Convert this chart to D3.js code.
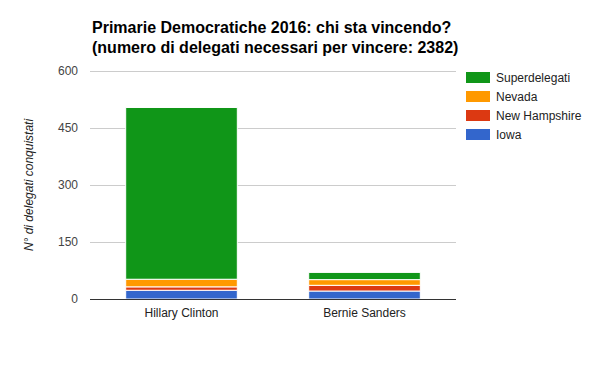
<!DOCTYPE html>
<html>
<head>
<meta charset="utf-8">
<script src="https://cdn.jsdelivr.net/npm/d3@7"></script>
<style>
  body { margin: 0; background: #fff; }
  text { font-family: "Liberation Sans", Arial, sans-serif; }
</style>
</head>
<body>
<script>
// candidates and delegates won per contest (stacked bottom to top)
const candidates = ['Hillary Clinton', 'Bernie Sanders'];
const series = ['Iowa', 'New Hampshire', 'Nevada', 'Superdelegati'];
const iowa = [23, 21];
const newHampshire = [9, 15];
const nevada = [20, 15];
const superdelegati = [452, 19];
const yTicks = [0, 150, 300, 450, 600];
const colors = ['#3366cc', '#dc3912', '#ff9900', '#109618'];

const svgWidth = 600;
const svgHeight = 371;
const margin = {left: 90, right: 144, top: 71, bottom: 72};

const svg = d3.select('body')
.append('svg')
.attr('width', svgWidth)
.attr('height', svgHeight)

const rows = candidates.map((c, i) => ({
    name: c,
    'Iowa': iowa[i],
    'New Hampshire': newHampshire[i],
    'Nevada': nevada[i],
    'Superdelegati': superdelegati[i]
}));
const stacked = d3.stack().keys(series)(rows);

const x = d3.scaleBand()
.domain(candidates)
.range([margin.left, svgWidth - margin.right])
.paddingInner(0.39)
.paddingOuter(0.195)

const y = d3.scaleLinear()
.domain([0, 600])
.range([svgHeight - margin.bottom, margin.top])

const color = d3.scaleOrdinal().domain(series).range(colors);

// gridlines
svg.append('g')
.selectAll('line')
.data(yTicks.filter((t) => t > 0))
.join('line')
.attr('x1', margin.left)
.attr('x2', svgWidth - margin.right)
.attr('y1', (d) => Math.round(y(d)) + 0.5)
.attr('y2', (d) => Math.round(y(d)) + 0.5)
.attr('stroke', '#cccccc')

// y tick labels
svg.append('g')
.selectAll('text')
.data(yTicks)
.join('text')
.attr('x', margin.left - 12)
.attr('y', (d) => y(d) + 4)
.attr('text-anchor', 'end')
.attr('font-size', 12)
.attr('fill', '#444')
.text((d) => d)

// stacked bars
svg.append('g')
.selectAll('g')
.data(stacked)
.join('g')
.attr('fill', (d) => color(d.key))
.selectAll('rect')
.data((d) => d)
.join('rect')
.attr('x', (d) => x(d.data.name))
.attr('width', x.bandwidth())
.attr('y', (d) => y(d[1]))
.attr('height', (d) => y(d[0]) - y(d[1]))
.attr('stroke', '#fff')
.attr('stroke-width', 1)

// baseline
svg.append('line')
.attr('x1', margin.left)
.attr('x2', svgWidth - margin.right)
.attr('y1', y(0) + 0.5)
.attr('y2', y(0) + 0.5)
.attr('stroke', '#333')

// x labels
svg.append('g')
.selectAll('text')
.data(candidates)
.join('text')
.attr('x', (d) => x(d) + x.bandwidth() / 2)
.attr('y', y(0) + 18)
.attr('text-anchor', 'middle')
.attr('font-size', 12)
.attr('fill', '#222')
.text((d) => d)

// y axis title
svg.append('text')
.attr('transform', `translate(33, ${(y(0) + y(600)) / 2}) rotate(-90)`)
.attr('text-anchor', 'middle')
.attr('font-size', 12)
.attr('font-style', 'italic')
.attr('fill', '#222')
.text('N° di delegati conquistati')

// title
const title = svg.append('text')
.attr('x', 92)
.attr('font-size', 16)
.attr('font-weight', 'bold')
.attr('fill', '#000')
title.append('tspan').attr('x', 92).attr('y', 33).text('Primarie Democratiche 2016: chi sta vincendo?')
title.append('tspan').attr('x', 92).attr('y', 53).text('(numero di delegati necessari per vincere: 2382)')

// legend (top entry is the top of the stack)
const legend = svg.append('g')
.selectAll('g')
.data(series.slice().reverse())
.join('g')
.attr('transform', (d, i) => `translate(466, ${72 + i * 19})`)

legend.append('rect')
.attr('width', 24)
.attr('height', 11)
.attr('fill', (d) => color(d))

legend.append('text')
.attr('x', 30)
.attr('y', 10)
.attr('font-size', 12)
.attr('fill', '#222')
.text((d) => d)
</script>
</body>
</html>
